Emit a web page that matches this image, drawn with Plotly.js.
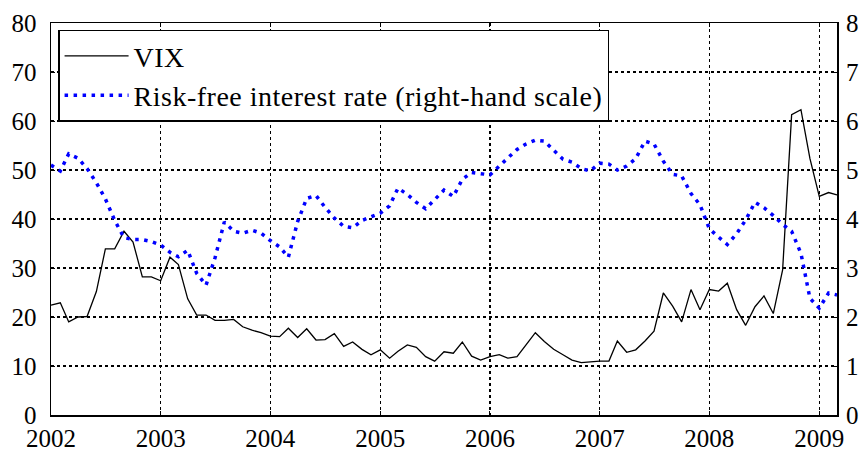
<!DOCTYPE html>
<html>
<head>
<meta charset="utf-8">
<script src="https://cdn.plot.ly/plotly-3.0.1.min.js"></script>
<style>
  html, body { margin: 0; padding: 0; background: #fff; }
  #chart { width: 868px; height: 450px; }
  .legendtext { letter-spacing: 0.5px; }
</style>
</head>
<body>
<div id="chart"></div>
<script>
// Monthly observations, January 2002 to March 2009
const startYear = 2002;
const monthCount = 87;

// VIX (left-hand scale)
const vix = [
  22.4, 22.9, 19.0, 20.0, 20.1, 25.2, 33.9, 33.9, 37.5, 35.3, 28.2, 28.2,
  27.4, 32.2, 30.7, 23.7, 20.4, 20.4, 19.3, 19.3, 19.5, 18.0, 17.3, 16.8,
  16.1, 16.0, 17.7, 15.8, 17.6, 15.3, 15.4, 16.6, 14.0, 14.9, 13.4, 12.3,
  13.3, 11.6, 13.0, 14.3, 13.8, 11.9, 11.0, 12.9, 12.6, 14.9, 12.0, 11.2,
  11.9, 12.3, 11.6, 11.9, 14.3, 16.8, 15.0, 13.4, 12.3, 11.2, 10.7, 10.9,
  11.0, 11.0, 15.1, 12.8, 13.3, 15.1, 17.1, 24.9, 22.2, 19.0, 25.6, 21.5,
  25.6, 25.3, 26.9, 21.5, 18.3, 22.1, 24.3, 20.7, 29.6, 61.3, 62.3, 52.3,
  44.6, 45.4, 44.9
];

// Risk-free interest rate, % (right-hand scale)
const riskFree = [
  5.10, 4.98, 5.33, 5.24, 5.03, 4.74, 4.41, 3.97, 3.62, 3.58, 3.58, 3.54,
  3.47, 3.32, 3.23, 3.36, 2.89, 2.65, 3.21, 3.94, 3.75, 3.71, 3.77, 3.71,
  3.56, 3.43, 3.22, 3.95, 4.42, 4.48, 4.24, 4.02, 3.85, 3.82, 3.97, 4.04,
  4.12, 4.27, 4.63, 4.50, 4.34, 4.21, 4.39, 4.59, 4.46, 4.81, 4.95, 4.93,
  4.90, 5.08, 5.25, 5.42, 5.53, 5.61, 5.59, 5.40, 5.22, 5.16, 5.03, 4.98,
  5.14, 5.12, 5.00, 5.08, 5.23, 5.59, 5.53, 5.18, 4.91, 4.88, 4.52, 4.29,
  3.80, 3.63, 3.48, 3.70, 3.98, 4.34, 4.23, 4.07, 3.89, 3.75, 3.30, 2.38,
  2.18, 2.49, 2.45
];

const seriesNames = ['VIX', 'Risk-free interest rate (right-hand scale)'];
const yearTicks = ['2002', '2003', '2004', '2005', '2006', '2007', '2008', '2009'];

const dates = [];
for (let i = 0; i < monthCount; i++) {
  const y = startYear + Math.floor(i / 12);
  const m = (i % 12) + 1;
  dates.push(y + '-' + (m < 10 ? '0' + m : m) + '-01');
}

const serif = 'Liberation Serif, Times New Roman, serif';

const traces = [
  {
    x: dates, y: vix, name: seriesNames[0], type: 'scatter', mode: 'lines',
    line: { color: '#000000', width: 1.3 }, yaxis: 'y', legendgroup: 'a'
  },
  {
    x: dates, y: riskFree, name: seriesNames[1], type: 'scatter', mode: 'lines',
    line: { color: '#0000ff', width: 3.5, dash: '3.5px,5.5px' }, yaxis: 'y2', legendgroup: 'b'
  }
];

const layout = {
  width: 868, height: 450,
  margin: { l: 51, r: 31, t: 23, b: 35 },
  paper_bgcolor: '#ffffff', plot_bgcolor: '#ffffff',
  font: { family: serif, size: 25, color: '#000' },
  showlegend: true,
  legend: {
    x: 0.009, y: 0.983, xanchor: 'left', yanchor: 'top',
    bgcolor: '#ffffff', bordercolor: '#000', borderwidth: 1.5,
    font: { family: serif, size: 28, color: '#000' },
    traceorder: 'grouped', tracegroupgap: 0, itemwidth: 64
  },
  xaxis: {
    type: 'date',
    range: ['2002-01-01', '2009-03-01'],
    tickvals: yearTicks.map(y => y + '-01-01'),
    ticktext: yearTicks,
    showgrid: true, gridcolor: '#000', gridwidth: 1.2, griddash: 'dot',
    showline: true, linecolor: '#000', linewidth: 1.5, mirror: 'ticks',
    ticks: 'inside', ticklen: 4, tickcolor: '#000',
    zeroline: false, ticklabelstandoff: 0,
    tickfont: { family: serif, size: 25, color: '#000' }
  },
  yaxis: {
    range: [0, 80], dtick: 10, tick0: 0,
    showgrid: true, gridcolor: '#000', gridwidth: 1.2, griddash: 'dot',
    showline: true, linecolor: '#000', linewidth: 1.5, mirror: true,
    ticks: 'inside', ticklen: 4, tickcolor: '#000',
    zeroline: false, ticklabelstandoff: 8,
    tickfont: { family: serif, size: 25, color: '#000' }
  },
  yaxis2: {
    range: [0, 8], dtick: 1, tick0: 0,
    overlaying: 'y', side: 'right',
    showgrid: false, zeroline: false,
    ticks: 'inside', ticklen: 4, tickcolor: '#000',
    ticklabelstandoff: 8,
    tickfont: { family: serif, size: 25, color: '#000' }
  }
};

Plotly.newPlot('chart', traces, layout, { staticPlot: true, displayModeBar: false });
</script>
</body>
</html>
